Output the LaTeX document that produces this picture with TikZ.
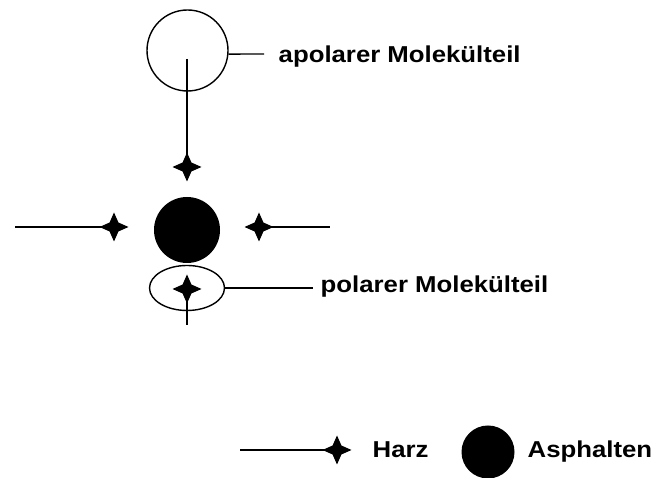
\documentclass[tikz,border=0pt]{standalone}
\usepackage{fontspec}
\setmainfont{Liberation Sans}[FakeStretch=1.12]
\usetikzlibrary{shapes.geometric}

\begin{document}
\begin{tikzpicture}[x=1pt,y=1pt,line width=1.4pt,
  harz/.style={star,star points=4,star point ratio=2.3,fill=black,inner sep=0pt,minimum size=29pt},
  asph/.style={circle,fill=black,inner sep=0pt},
  txt/.style={anchor=base west,inner sep=0pt,font=\fontsize{23}{27}\selectfont\bfseries}]
\useasboundingbox (0,0) rectangle (651,478);

% molecule parts
\node[draw,circle,inner sep=0pt,minimum size=81pt] (apol) at (187.5,427.5){};
\node[draw,ellipse,inner sep=0pt,minimum width=75pt,minimum height=45pt] (pol) at (187,190){};
\node[asph,minimum size=66pt] (a1) at (187,248){};

% resin stars round the asphaltene
\node[harz] (h1) at (187,311){};
\node[harz] (h2) at (114,251){};
\node[harz] (h3) at (259,251){};
\node[harz] (h4) at (187,189){};

\coordinate (apoltail) at (187,419);
\coordinate (ptail) at (187,153);
\coordinate (lend) at (15,251);
\coordinate (rend) at (330,251);
\coordinate (apolend) at (264,424);
\coordinate (polend) at (313,190);

\draw (apoltail)--(h1.center);
\draw (lend)--(h2.center);
\draw (h3.center)--(rend);
\draw (h4.center)--(ptail);

% labels
\draw (apol.-5)--(apolend);
\node[txt] (apoltxt) at (278,415){apolarer Molekülteil};
\draw (pol.east)--(polend);
\node[txt] (poltxt) at (320,185){polarer Molekülteil};

% legend
\coordinate (legend) at (240,28);
\node[harz] (h5) at (337,28){};
\draw (legend)--(h5.center);
\node[txt] (harztxt) at (372,20){Harz};
\node[asph,minimum size=53pt] (a2) at (488,26){};
\node[txt] (asphtxt) at (527,20){Asphalten};
\end{tikzpicture}
\end{document}
